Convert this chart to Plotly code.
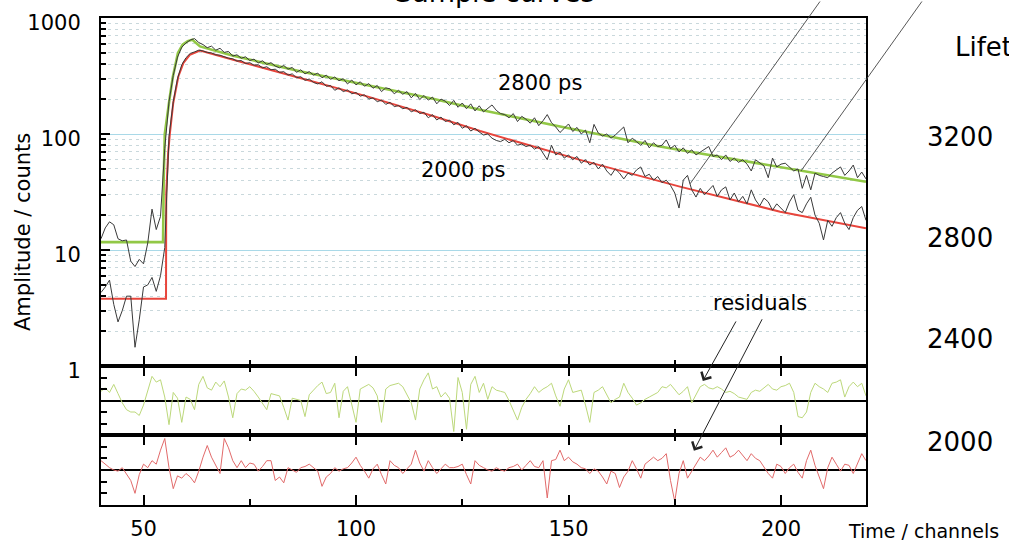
import math
import plotly.graph_objects as go

# ---- measured decay curves (counts per channel, channels 40..220) ----
channels = list(range(40, 221))

counts_long = [
    12.5, 15.5, 17.5, 16.5, 12.5, 12.0, 12.2, 8.0, 7.2, 8.3, 7.6, 11.5, 22.5, 15.0, 19.5,
    75, 190, 320, 460, 560, 610, 645, 665, 615, 590, 555, 572, 528, 548, 505, 515,
    470, 482, 450, 463, 430, 442, 410, 428, 398, 412,
    385, 372, 390, 362, 375, 340, 358, 330, 345, 322,
    335, 305, 322, 296, 310, 288, 300, 270, 292, 265,
    282, 258, 272, 248, 262, 232, 250, 245, 222, 238,
    220, 232, 205, 224, 198, 215, 196, 208, 182, 200,
    192, 176, 195, 170, 185, 165, 182, 158, 175, 155,
    166, 178, 160, 150, 147, 138, 150, 128, 142, 134,
    124, 138, 118, 130, 147, 125, 115, 103, 112, 122,
    105, 114, 100, 108, 84, 121, 102, 96, 100, 92,
    98, 106, 115, 84, 92, 86, 80, 88, 76, 84,
    78, 80, 89, 75, 80, 70, 76, 68, 73, 66,
    70, 74, 78, 64, 66, 60, 66, 58, 62, 57,
    60, 55, 48, 60, 56, 53, 42, 62, 52, 55,
    56, 52, 48, 50, 34, 44, 33, 46, 44, 43,
    42, 46, 49, 52, 44, 48, 54, 42, 47, 41,
]

counts_short = [
    4.3, 4.8, 5.5, 3.4, 2.4, 3.0, 4.0, 4.0, 1.45, 2.5, 4.8, 5.0, 5.8, 4.4, 6.0, 10.5,
    95, 190, 300, 395, 455, 495, 510, 528, 520, 505, 500, 482, 478, 462, 450,
    445, 425, 430, 405, 412, 392, 395, 372, 380, 358,
    362, 340, 345, 322, 330, 305, 312, 290, 298, 278,
    270, 282, 258, 262, 238, 250, 232, 240, 222, 228,
    212, 218, 200, 205, 190, 196, 180, 188, 172, 176,
    165, 170, 155, 162, 150, 154, 138, 147, 132, 140,
    128, 132, 120, 126, 112, 118, 106, 112, 104, 98,
    100, 92, 88, 86, 90, 84, 88, 80, 82, 78,
    80, 74, 78, 68, 60, 80, 66, 70, 62, 66,
    60, 64, 56, 60, 54, 57, 50, 55, 48, 44,
    50, 46, 41, 46, 44, 49, 52, 43, 45, 40,
    43, 38, 40, 36, 31, 23, 40, 44, 33, 28.6,
    34, 30, 33, 36, 29, 33, 35, 27, 31, 26,
    29, 25, 33, 27, 24, 28, 26, 22, 25, 23,
    21, 26, 30, 22, 21, 25, 28.5, 20, 17, 12.2,
    18, 16, 19, 21, 17, 15, 19, 22, 23.7, 18,
]

# ---- fitted model curves (vertices; straight on the log scale between them) ----
fit_long_ch = [40, 54.6, 54.75, 55.0, 56.2, 56.9, 58.1, 59.2, 60.4, 61.5, 63.3, 67.2,
               71.1, 86.8, 102.6, 118.1, 129.2, 148, 171.5, 195.1, 220]
fit_long = [11.7, 11.7, 40, 100, 210, 310, 500, 590, 632, 650, 569, 515,
            473, 348, 263, 201, 162, 116, 78, 55.3, 38.7]

fit_short_ch = [40, 55.3, 55.35, 55.8, 56.2, 57.0, 58.2, 59.4, 60.9, 62.5, 63.3,
                71.1, 86.8, 102.6, 118.1, 129.2, 152.7, 176.2, 199.8, 220]
fit_short = [3.8, 3.8, 31, 68.7, 100, 185, 313, 410, 482, 515, 525,
             437, 303, 211, 143, 106, 59.8, 35.2, 21.4, 15.4]

# ---- weighted residuals of both fits (channels 40..220) ----
resid_long = [
    0.8, 1.1, 0.7, 1.4, 0.6, -0.2, -0.8, -1.0, -1.0, -1.3,
    -0.4, 0.9, 2.1, 1.6, 1.8, 0.3, -2.1, 0.7, 0.2, -1.9,
    0.3, 0.1, -0.8, 1.4, 2.1, 1.1, 0.9, 1.6, 1.2, 1.7,
    0.3, -1.5, 0.6, 1.0, 0.9, 1.2, 0.8, 0.3, -0.2, -0.8,
    0.6, 0.5, 0.4, -0.6, -1.7, 0.2, 0.1, 0.0, -1.4, 0.5,
    0.9, 1.3, 1.6, 0.6, 0.7, 1.5, -1.5, 0.8, 1.2, -0.3,
    -1.9, 1.0, 1.2, 1.4, 1.1, 0.4, -1.9, 1.0, 1.3, 1.4,
    1.5, 1.2, 0.5, -0.2, -1.7, 1.0, 1.8, 2.4, 1.0, 1.2,
    0.3, 0.7, 0.2, -2.7, 2.0, 0.7, -2.5, 1.4, 2.1, 0.7,
    1.5, 0.1, 1.2, 0.9, 0.8, 0.7, 0.0, -0.8, -1.7, -0.6,
    0.1, 0.6, 1.2, 0.7, 1.0, 1.2, 1.5, 0.4, -0.5, 1.0,
    1.8, 0.7, 0.8, 0.9, -0.4, -1.9, 0.7, 0.9, 1.2, 0.5,
    -0.2, 0.1, 0.3, 1.5, 0.7, 0.2, -0.4, -0.2, 0.1, 0.3,
    0.5, 0.7, 1.2, 1.1, 1.4, 0.9, 0.5, 0.8, 1.2, -0.2,
    0.5, 1.2, 1.4, 1.1, 1.0, 1.2, 1.0, 0.7, 0.8, 0.6,
    0.3, 0.2, 0.1, 0.7, 0.9, 0.8, 1.1, 1.4, 1.0, 0.9,
    1.2, 1.3, 1.5, 0.7, -1.4, -1.5, -1.0, 0.7, 1.5, 1.2,
    1.0, 0.7, 1.5, 1.6, 1.8, 0.3, 1.2, 1.6, 1.2, 1.5,
    0.4,
]

resid_short = [
    0.8, 0.5, 0.2, 0.0, -0.1, 0.2, -0.3, -0.9, -2.0, -0.4,
    0.5, 0.2, 0.8, 0.5, 1.7, 2.7, 0.2, -1.6, -0.5, -0.7,
    -0.3, -0.6, -1.1, -0.1, 1.1, 2.1, 1.1, 0.4, -0.3, 2.7,
    1.9, 0.8, 0.2, 0.8, 0.2, 0.6, 0.5, -0.1, 0.3, 0.8,
    0.8, -0.9, -0.6, -1.1, 0.2, 0.0, -0.2, 0.2, 0.3, 0.5,
    0.2, -0.1, -1.4, -0.6, -0.3, 0.2, -0.1, 0.1, 0.2, 0.6,
    1.1, 0.4, -0.1, -0.7, 0.1, 0.5, -0.4, -1.2, 0.8, 0.4,
    0.2, -0.3, 0.1, 0.5, 1.7, 0.6, -0.1, 0.8, 0.2, -0.3,
    0.1, 0.5, 0.2, 0.2, 0.3, 0.5, -0.4, -1.2, 0.8, 0.4,
    0.2, 0.0, -0.1, 0.2, 0.0, -0.1, 0.2, 0.3, 0.5, 0.0,
    0.4, 0.8, 0.3, 0.2, 0.8, -2.4, 0.8, 0.9, 1.7, 0.8,
    1.1, 0.7, 0.5, 0.2, 0.1, -0.3, 0.1, -0.1, -0.6, -1.2,
    -0.1, -0.3, -1.5, -0.6, -0.1, 0.8, 0.1, -0.7, 0.5, 0.8,
    1.1, 0.8, 1.0, 1.4, -0.9, -2.7, -0.3, 0.8, -0.7, -0.1,
    0.5, 1.1, 0.8, 1.2, 1.7, 1.1, 1.5, 1.9, 1.1, 1.3,
    1.7, 1.2, 0.8, 1.4, 1.0, 0.8, 0.2, -0.3, -0.7, 0.5,
    0.3, -0.3, 0.2, 0.5, -0.2, -0.7, 0.8, 1.7, 0.4, -0.7,
    -1.6, 0.2, 1.1, 0.5, -0.1, 0.5, 0.4, -0.3, 0.6, 1.4,
    0.8,
]

# ---- axis ticks ----
x_major = [50, 100, 150, 200]
x_minor = [75, 125, 175]
y_major = [1, 10, 100, 1000]
y_major_text = ["1", "10", "100", "1000"]
y_minor = [2, 3, 4, 5, 6, 7, 8, 9, 20, 30, 40, 50, 60, 70, 80, 90,
           200, 300, 400, 500, 600, 700, 800, 900]
resid_ticks = [-2, -1, 1, 2]

# ---- side labels ----
lifetime_labels = ["3200", "2800", "2400", "2000"]

GREEN = "#92c846"
RED = "#e8453c"
DATA = "#3a3a3a"
GREEN_RES = "#bcd87a"
RED_RES = "#e26a6a"
FONT = "DejaVu Sans"

fig = go.Figure()

fig.add_trace(go.Scatter(x=fit_long_ch, y=fit_long, mode="lines",
                         line=dict(color=GREEN, width=2.6), xaxis="x", yaxis="y"))
fig.add_trace(go.Scatter(x=fit_short_ch, y=fit_short, mode="lines",
                         line=dict(color=RED, width=2), xaxis="x", yaxis="y"))
fig.add_trace(go.Scatter(x=channels, y=counts_long, mode="lines",
                         line=dict(color=DATA, width=1), xaxis="x", yaxis="y"))
fig.add_trace(go.Scatter(x=channels, y=counts_short, mode="lines",
                         line=dict(color=DATA, width=1), xaxis="x", yaxis="y"))
fig.add_trace(go.Scatter(x=channels, y=resid_long, mode="lines",
                         line=dict(color=GREEN_RES, width=1), xaxis="x2", yaxis="y2"))
fig.add_trace(go.Scatter(x=channels, y=resid_short, mode="lines",
                         line=dict(color=RED_RES, width=1), xaxis="x3", yaxis="y3"))

# plot area in pixels: x 101..866, y 18..505
L, R, T, B = 101, 866, 18, 505
W, H = R - L, B - T


def px(xp):
    return (xp - L) / W


def py(yp):
    return (B - yp) / H


main_dom = [py(366), 1]
r1_dom = [py(435), py(366)]
r2_dom = [0, py(435)]

tickfont = dict(family=FONT, size=21, color="black")

xcommon = dict(range=[40, 220], showgrid=False, zeroline=False, showline=True,
               linecolor="black", linewidth=2, ticks="inside", tickvals=x_major,
               ticklen=10, tickwidth=2, tickcolor="black", automargin=False,
               minor=dict(tickvals=x_minor, ticks="inside", ticklen=6,
                          tickwidth=2, tickcolor="black", showgrid=False))

rescommon = dict(range=[-3, 3], showgrid=False, showline=True, linecolor="black",
                 linewidth=2, mirror=True, ticks="inside", tickvals=resid_ticks,
                 ticklen=6, tickwidth=2, tickcolor="black", showticklabels=False,
                 zeroline=True, zerolinecolor="black", zerolinewidth=2,
                 automargin=False)


def label(text, xpix, ypix, size, xanchor="center", angle=0):
    return dict(text=text, x=px(xpix), y=py(ypix), xref="paper", yref="paper",
                xanchor=xanchor, yanchor="middle", textangle=angle, showarrow=False,
                font=dict(family=FONT, size=size, color="black"))


annotations = [
    label("Sample curves", 495, -7.5, 27),
    label("2800 ps", 540, 83, 21),
    label("2000 ps", 463, 170, 21),
    label("residuals", 760, 303, 21),
    label("Amplitude / counts", 23, 232, 21, angle=-90),
    label("Time / channels", 846, 531, 19, xanchor="left"),
    label("Lifetime / ps", 953, 47, 26, xanchor="left"),
]

for txt, ypix in zip(lifetime_labels, [137, 238, 339, 442]):
    annotations.append(label(txt, 960, ypix, 26))

# pointer lines leading out of the frame to the curves
annotations += [
    dict(text="", x=178.6, y=math.log10(37.2), xref="x", yref="y",
         ax=131, ay=-204, showarrow=True, arrowhead=0, arrowwidth=0.9, arrowcolor="#444"),
    dict(text="", x=204.7, y=math.log10(48), xref="x", yref="y",
         ax=122, ay=-191, showarrow=True, arrowhead=0, arrowwidth=0.9, arrowcolor="#444"),
    dict(text="", x=181.6, y=1.7, xref="x2", yref="y2",
         ax=34, ay=-61, showarrow=True, arrowhead=4, arrowsize=2.2, arrowwidth=1,
         arrowcolor="#222"),
    dict(text="", x=179.5, y=1.65, xref="x3", yref="y3",
         ax=69, ay=-133, showarrow=True, arrowhead=4, arrowsize=2.2, arrowwidth=1,
         arrowcolor="#222"),
]

fig.update_layout(
    width=1009, height=541, autosize=False,
    margin=dict(l=L, r=1009 - R, t=T, b=541 - B, pad=0, autoexpand=False),
    paper_bgcolor="white", plot_bgcolor="white",
    showlegend=False, hovermode=False,
    font=dict(family=FONT, color="black"),
    xaxis=dict(domain=[0, 1], anchor="y", showticklabels=False, mirror=True, **xcommon),
    xaxis2=dict(domain=[0, 1], anchor="y2", matches="x", showticklabels=False,
                mirror="ticks", **xcommon),
    xaxis3=dict(domain=[0, 1], anchor="y3", matches="x", showticklabels=True,
                mirror="ticks", tickfont=tickfont, ticklabelstandoff=4, **xcommon),
    yaxis=dict(domain=main_dom, anchor="x", type="log", range=[0, 3],
               tickmode="array", tickvals=y_major, ticktext=y_major_text,
               tickfont=tickfont, ticks="inside", ticklen=9, tickwidth=2,
               tickcolor="black", ticklabelstandoff=14, ticklabelshift=5,
               showline=True, linecolor="black", linewidth=2, mirror=True,
               showgrid=True, gridcolor="#a9d9e8", gridwidth=1, zeroline=False,
               automargin=False,
               minor=dict(tickvals=y_minor, ticks="inside", ticklen=5, tickwidth=1.5,
                          tickcolor="black", showgrid=True, gridcolor="#c9d8dc",
                          gridwidth=1, griddash="3px,4px")),
    yaxis2=dict(domain=r1_dom, anchor="x2", **rescommon),
    yaxis3=dict(domain=r2_dom, anchor="x3", **rescommon),
    annotations=annotations,
)

fig.write_html("out.html")
